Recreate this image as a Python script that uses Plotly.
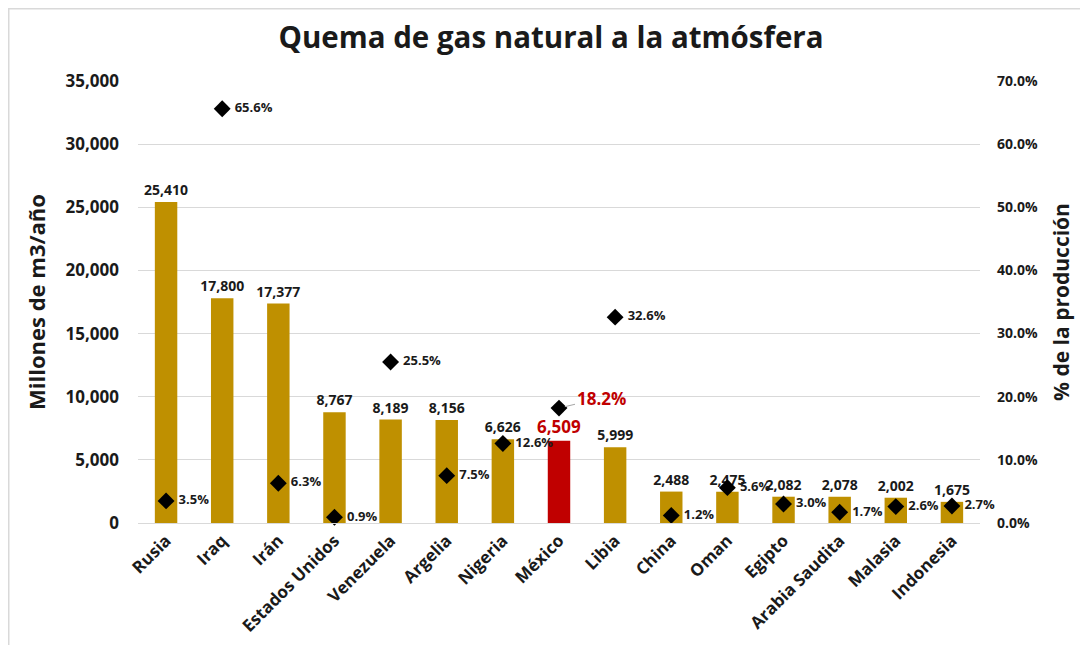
import plotly.graph_objects as go

countries = ["Rusia", "Iraq", "Irán", "Estados Unidos", "Venezuela", "Argelia", "Nigeria",
             "México", "Libia", "China", "Oman", "Egipto", "Arabia Saudita", "Malasia", "Indonesia"]
flaring = [25410, 17800, 17377, 8767, 8189, 8156, 6626, 6509, 5999, 2488, 2475, 2082, 2078, 2002, 1675]
share_pct = [3.5, 65.6, 6.3, 0.9, 25.5, 7.5, 12.6, 18.2, 32.6, 1.2, 5.6, 3.0, 1.7, 2.6, 2.7]

HIGHLIGHT = "México"
GOLD = "#BF9000"
RED = "#C00000"
FONT = "Open Sans"

share = [v / 100 for v in share_pct]
bar_colors = [RED if c == HIGHLIGHT else GOLD for c in countries]
bar_text_colors = [RED if c == HIGHLIGHT else "#1a1a1a" for c in countries]
bar_text_sizes = [17 if c == HIGHLIGHT else 14 for c in countries]
pct_text = ["" if c == HIGHLIGHT else f" {v:.1f}%" for c, v in zip(countries, share_pct)]

W, H = 1080, 637
L, R, T, B = 130, 108, 73, 122
PW, PH = W - L - R, H - T - B

fig = go.Figure()
fig.add_trace(go.Bar(
    x=countries, y=flaring, marker=dict(color=bar_colors, line=dict(width=0)),
    width=0.4,
    text=[f"{v:,}" for v in flaring], textposition="outside", cliponaxis=False,
    constraintext="none",
    textfont=dict(family=FONT, size=bar_text_sizes, color=bar_text_colors, weight="bold"),
    showlegend=False,
))
fig.add_trace(go.Scatter(
    x=countries, y=share, yaxis="y2", mode="markers+text",
    marker=dict(symbol="diamond", size=13, color="black"),
    text=pct_text, textposition="middle right",
    textfont=dict(family=FONT, size=13, color="#1a1a1a", weight="bold"),
    cliponaxis=False, showlegend=False,
))

mi = countries.index(HIGHLIGHT)
fig.add_annotation(
    x=countries[mi], y=share[mi], yref="y2", text="<b>%.1f%%</b>" % share_pct[mi],
    font=dict(family=FONT, size=17, color=RED),
    showarrow=True, arrowhead=0, arrowwidth=1, arrowcolor="#A6A6A6",
    ax=42, ay=-10, xanchor="center", standoff=6,
)

fig.update_layout(
    width=W, height=H,
    margin=dict(l=L, r=R, t=T, b=B),
    paper_bgcolor="white", plot_bgcolor="white",
    font=dict(family=FONT, color="#1a1a1a"),
    title=dict(text="<b>Quema de gas natural a la atmósfera</b>", x=(551 - 8) / W, xanchor="center",
               y=1 - 30 / H, yanchor="middle",
               font=dict(family=FONT, size=29.5, color="#1a1a1a")),
    xaxis=dict(range=[-0.5, len(countries) - 0.5], tickangle=-45,
               tickfont=dict(family=FONT, size=17, weight="bold"),
               showline=True, linecolor="#D9D9D9", linewidth=1, ticks="", automargin=False),
    yaxis=dict(range=[0, 35000], dtick=5000, tickformat=",", showgrid=True, gridcolor="#D9D9D9",
               zeroline=False, tickfont=dict(family=FONT, size=17, weight="bold"),
               title=dict(text="<b>Millones de m3/año</b>", font=dict(family=FONT, size=22), standoff=13),
               ticklabelstandoff=18, automargin=False),
    yaxis2=dict(range=[0, 0.7], dtick=0.1, tickformat=".1%", overlaying="y", side="right",
                showgrid=False, zeroline=False, tickfont=dict(family=FONT, size=14, weight="bold"),
                title=dict(text="<b>% de la producción</b>", font=dict(family=FONT, size=21), standoff=17),
                ticklabelstandoff=16, automargin=False),
    bargap=0.6,
    shapes=[dict(type="rect", xref="paper", yref="paper",
                 x0=(0.75 - L) / PW, x1=(W + 20 - L) / PW,
                 y0=(T + PH - (H + 20)) / PH, y1=(T + PH - 0.75) / PH,
                 line=dict(color="#D9D9D9", width=1.5), layer="below")],
)

fig.write_html("out.html")
